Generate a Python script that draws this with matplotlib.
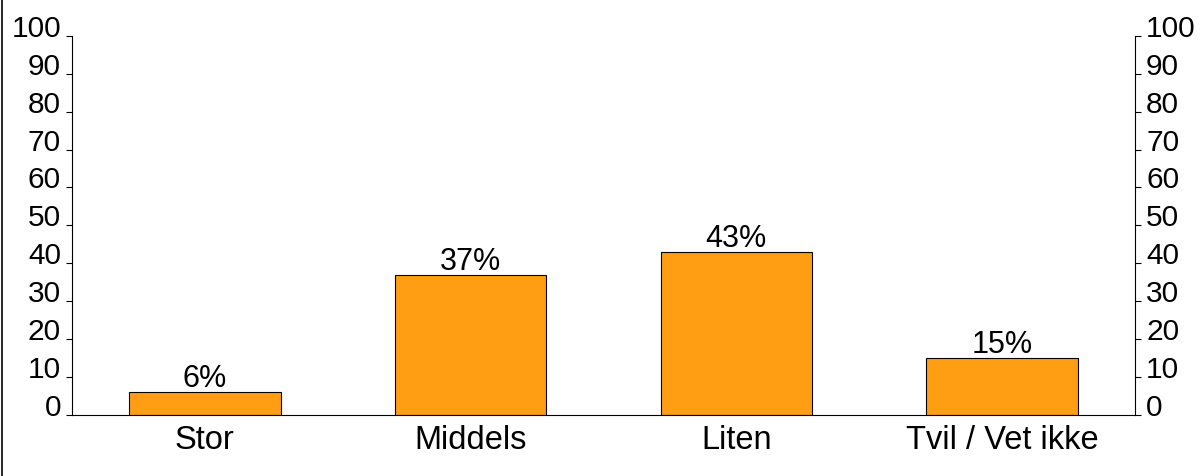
import matplotlib
matplotlib.use("Agg")
import matplotlib.pyplot as plt
from matplotlib.lines import Line2D

categories = ["Stor", "Middels", "Liten", "Tvil / Vet ikke"]
values = [6, 37, 43, 15]
labels = ["6%", "37%", "43%", "15%"]
yticks = list(range(0, 101, 10))

plt.rcParams['font.family'] = ['Liberation Sans', 'DejaVu Sans']

W, H = 1201, 477
fig = plt.figure(figsize=(W / 100, H / 100), dpi=100)
l, r, b, t = 72, 1135, 415.7, 37
ax = fig.add_axes([l / W, (H - b) / H, (r - l) / W, (b - t) / H])

x = list(range(len(categories)))
ax.bar(x, values, width=0.57, color='#FF9E12', edgecolor='black', linewidth=0.8)
for xi, v, lab in zip(x, values, labels):
    ax.text(xi, v + 1.5, lab, ha='center', va='baseline', fontsize=22)

ax.set_xlim(-0.5, len(categories) - 0.5)
ax.set_ylim(0, 100)
ax.set_xticks(x)
ax.set_xticklabels(categories, fontsize=23.5)
ax.tick_params(axis='x', length=0, pad=7)
ax.set_yticks(yticks)
ax.tick_params(axis='y', labelsize=21.5, direction='out', length=4, width=0.8, pad=4,
               left=True, right=True, labelleft=True, labelright=True)
for tk in ax.yaxis.get_major_ticks():
    tk.label1.set_verticalalignment('baseline')
    tk.label2.set_verticalalignment('baseline')
ax.spines['top'].set_visible(False)
for s in ['left', 'right', 'bottom']:
    ax.spines[s].set_linewidth(0.8)

fig.add_artist(Line2D([2 / W, 2 / W], [0, 1], color='black', linewidth=1.2, transform=fig.transFigure))

fig.savefig("out.png", dpi=100)
